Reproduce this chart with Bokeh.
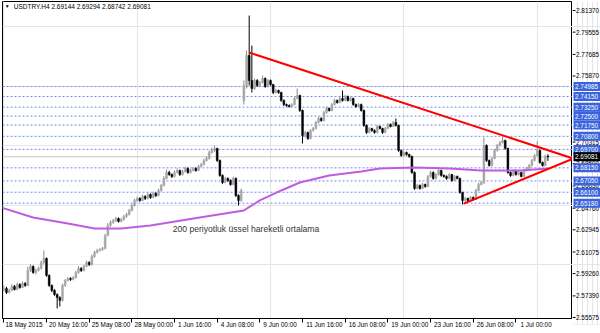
from bokeh.plotting import figure
from bokeh.layouts import row
from bokeh.models import (Range1d, LinearAxis, FixedTicker, Label, Span, ColumnDataSource,
                          CustomJSTickFormatter)
from bokeh.core.properties import value
from bokeh.embed import file_html
from bokeh.resources import INLINE

# ---------------- data ----------------
x_tick_bars = [0, 16, 32, 48, 64, 80, 96, 112, 128, 144, 160, 176, 192]
x_tick_labels = ["18 May 2015", "20 May 16:00", "25 May 08:00", "28 May 00:00", "1 Jun 16:00",
                 "4 Jun 08:00", "9 Jun 00:00", "11 Jun 16:00", "16 Jun 08:00", "19 Jun 00:00",
                 "23 Jun 16:00", "26 Jun 08:00", "1 Jul 00:00"]

y_ticks = [2.81370, 2.79555, 2.77685, 2.75870, 2.70315, 2.68500, 2.66630, 2.64760,
           2.62945, 2.61075, 2.59260, 2.57390, 2.55575]

opens = [2.5790, 2.5802, 2.5768, 2.5785, 2.5819, 2.5793, 2.5835, 2.5810, 2.5844, 2.5827,
         2.5953, 2.5987, 2.5936, 2.5953, 2.5970, 2.6020, 2.6054, 2.5911, 2.5827, 2.5785,
         2.5751, 2.5726, 2.5701, 2.5827, 2.5869, 2.5886, 2.5877, 2.5894, 2.5936, 2.5970,
         2.5953, 2.5987, 2.6020, 2.6003, 2.6071, 2.6104, 2.6121, 2.6129, 2.6138, 2.6247,
         2.6331, 2.6356, 2.6373, 2.6390, 2.6365, 2.6381, 2.6407, 2.6423, 2.6457, 2.6499,
         2.6541, 2.6558, 2.6541, 2.6575, 2.6558, 2.6591, 2.6566, 2.6600, 2.6583, 2.6625,
         2.6667, 2.6726, 2.6776, 2.6759, 2.6743, 2.6776, 2.6793, 2.6759, 2.6785, 2.6810,
         2.6776, 2.6793, 2.6810, 2.6793, 2.6827, 2.6843, 2.6877, 2.6894, 2.6944, 2.6961,
         2.6978, 2.6877, 2.6751, 2.6692, 2.6726, 2.6709, 2.6675, 2.6726, 2.6583, 2.6541,
         2.7381, 2.7507, 2.7759, 2.7549, 2.7482, 2.7549, 2.7507, 2.7532, 2.7566, 2.7499,
         2.7549, 2.7515, 2.7448, 2.7465, 2.7448, 2.7381, 2.7347, 2.7339, 2.7331, 2.7347,
         2.7398, 2.7423, 2.7297, 2.7087, 2.7112, 2.7062, 2.7129, 2.7146, 2.7196, 2.7230,
         2.7213, 2.7280, 2.7314, 2.7297, 2.7347, 2.7381, 2.7364, 2.7398, 2.7381, 2.7415,
         2.7381, 2.7398, 2.7347, 2.7331, 2.7347, 2.7297, 2.7171, 2.7112, 2.7146, 2.7129,
         2.7112, 2.7163, 2.7146, 2.7112, 2.7146, 2.7179, 2.7163, 2.7196, 2.7171, 2.6961,
         2.6919, 2.6944, 2.6927, 2.6911, 2.6776, 2.6642, 2.6667, 2.6642, 2.6675, 2.6659,
         2.6743, 2.6776, 2.6726, 2.6759, 2.6793, 2.6751, 2.6743, 2.6726, 2.6759, 2.6709,
         2.6743, 2.6726, 2.6608, 2.6541, 2.6558, 2.6541, 2.6566, 2.6549, 2.6625, 2.6675,
         2.6692, 2.7003, 2.6877, 2.6835, 2.6894, 2.6961, 2.7003, 2.7028, 2.7045, 2.6978,
         2.6776, 2.6751, 2.6793, 2.6759, 2.6776, 2.6743, 2.6793, 2.6810, 2.6835, 2.6877,
         2.6919, 2.6961, 2.6860, 2.6835, 2.69144]

highs = [2.5825, 2.5815, 2.5800, 2.5838, 2.5830, 2.5850, 2.5845, 2.5860, 2.5855, 2.5985,
         2.6005, 2.5995, 2.5968, 2.5985, 2.6035, 2.6121, 2.6062, 2.5920, 2.5835, 2.5795,
         2.5760, 2.5735, 2.5840, 2.5880, 2.5898, 2.5895, 2.5905, 2.5950, 2.5990, 2.5980,
         2.6000, 2.6035, 2.6030, 2.6085, 2.6118, 2.6135, 2.6140, 2.6150, 2.6260, 2.6350,
         2.6372, 2.6385, 2.6402, 2.6398, 2.6395, 2.6420, 2.6438, 2.6470, 2.6512, 2.6555,
         2.6572, 2.6568, 2.6590, 2.6585, 2.6605, 2.6600, 2.6615, 2.6610, 2.6640, 2.6680,
         2.6745, 2.6800, 2.6790, 2.6768, 2.6792, 2.6810, 2.6800, 2.6798, 2.6825, 2.6818,
         2.6808, 2.6822, 2.6818, 2.6840, 2.6858, 2.6892, 2.6910, 2.6960, 2.6985, 2.7003,
         2.6985, 2.6885, 2.6760, 2.6740, 2.6735, 2.6718, 2.6740, 2.6735, 2.6592, 2.6640,
         2.7549, 2.7801, 2.8095, 2.7843, 2.7565, 2.7560, 2.7545, 2.7590, 2.7575, 2.7560,
         2.7558, 2.7522, 2.7478, 2.7472, 2.7455, 2.7390, 2.7355, 2.7348, 2.7358, 2.7412,
         2.7482, 2.7430, 2.7305, 2.7125, 2.7120, 2.7140, 2.7158, 2.7210, 2.7245, 2.7240,
         2.7295, 2.7328, 2.7322, 2.7360, 2.7395, 2.7390, 2.7412, 2.7465, 2.7428, 2.7422,
         2.7410, 2.7405, 2.7355, 2.7360, 2.7355, 2.7305, 2.7180, 2.7158, 2.7152, 2.7138,
         2.7175, 2.7170, 2.7152, 2.7158, 2.7192, 2.7188, 2.7210, 2.7230, 2.7178, 2.6970,
         2.6955, 2.6952, 2.6935, 2.6918, 2.6785, 2.6680, 2.6675, 2.6688, 2.6682, 2.6755,
         2.6790, 2.6785, 2.6770, 2.6805, 2.6800, 2.6760, 2.6752, 2.6770, 2.6765, 2.6755,
         2.6750, 2.6732, 2.6615, 2.6570, 2.6565, 2.6578, 2.6575, 2.6638, 2.6690, 2.6705,
         2.7070, 2.7012, 2.6885, 2.6905, 2.6975, 2.7015, 2.7040, 2.7079, 2.7052, 2.6985,
         2.6785, 2.6805, 2.6800, 2.6788, 2.6782, 2.6805, 2.6822, 2.6848, 2.6890, 2.6930,
         2.7037, 2.6968, 2.6868, 2.6925, 2.69294]

lows = [2.5775, 2.5755, 2.5760, 2.5778, 2.5785, 2.5788, 2.5800, 2.5805, 2.5815, 2.5820,
        2.5940, 2.5925, 2.5920, 2.5945, 2.5960, 2.6005, 2.5900, 2.5815, 2.5770, 2.5740,
        2.5634, 2.5650, 2.5690, 2.5815, 2.5860, 2.5865, 2.5870, 2.5885, 2.5925, 2.5940,
        2.5945, 2.5980, 2.5990, 2.5995, 2.6060, 2.6095, 2.6110, 2.6118, 2.6130, 2.6240,
        2.6320, 2.6345, 2.6360, 2.6355, 2.6358, 2.6370, 2.6395, 2.6415, 2.6448, 2.6490,
        2.6530, 2.6530, 2.6535, 2.6545, 2.6550, 2.6555, 2.6560, 2.6570, 2.6575, 2.6615,
        2.6660, 2.6718, 2.6748, 2.6730, 2.6735, 2.6768, 2.6748, 2.6750, 2.6775, 2.6765,
        2.6768, 2.6785, 2.6782, 2.6788, 2.6818, 2.6835, 2.6868, 2.6885, 2.6935, 2.6950,
        2.6865, 2.6740, 2.6680, 2.6685, 2.6698, 2.6665, 2.6668, 2.6570, 2.6499, 2.6530,
        2.7347, 2.7482, 2.7507, 2.7448, 2.7470, 2.7495, 2.7498, 2.7525, 2.7488, 2.7490,
        2.7505, 2.7435, 2.7440, 2.7438, 2.7370, 2.7335, 2.7328, 2.7322, 2.7325, 2.7340,
        2.7390, 2.7285, 2.7020, 2.7070, 2.7050, 2.7055, 2.7120, 2.7138, 2.7188, 2.7202,
        2.7205, 2.7270, 2.7288, 2.7290, 2.7340, 2.7355, 2.7358, 2.7372, 2.7375, 2.7372,
        2.7372, 2.7338, 2.7320, 2.7325, 2.7288, 2.7160, 2.7100, 2.7105, 2.7118, 2.7102,
        2.7105, 2.7138, 2.7100, 2.7105, 2.7140, 2.7155, 2.7158, 2.7162, 2.6950, 2.6908,
        2.6912, 2.6918, 2.6900, 2.6765, 2.6630, 2.6635, 2.6632, 2.6635, 2.6648, 2.6652,
        2.6735, 2.6715, 2.6718, 2.6750, 2.6740, 2.6732, 2.6715, 2.6720, 2.6698, 2.6702,
        2.6718, 2.6598, 2.6507, 2.6525, 2.6530, 2.6535, 2.6540, 2.6545, 2.6618, 2.6668,
        2.6680, 2.6865, 2.6825, 2.6828, 2.6888, 2.6952, 2.6995, 2.7020, 2.6968, 2.6765,
        2.6740, 2.6745, 2.6750, 2.6752, 2.6735, 2.6738, 2.6785, 2.6805, 2.6828, 2.6870,
        2.6912, 2.6850, 2.6825, 2.6828, 2.68742]

closes = [2.5802, 2.5768, 2.5785, 2.5819, 2.5793, 2.5835, 2.5810, 2.5844, 2.5827, 2.5953,
          2.5987, 2.5936, 2.5953, 2.5970, 2.6020, 2.6054, 2.5911, 2.5827, 2.5785, 2.5751,
          2.5726, 2.5701, 2.5827, 2.5869, 2.5886, 2.5877, 2.5894, 2.5936, 2.5970, 2.5953,
          2.5987, 2.6020, 2.6003, 2.6071, 2.6104, 2.6121, 2.6129, 2.6138, 2.6247, 2.6331,
          2.6356, 2.6373, 2.6390, 2.6365, 2.6381, 2.6407, 2.6423, 2.6457, 2.6499, 2.6541,
          2.6558, 2.6541, 2.6575, 2.6558, 2.6591, 2.6566, 2.6600, 2.6583, 2.6625, 2.6667,
          2.6726, 2.6776, 2.6759, 2.6743, 2.6776, 2.6793, 2.6759, 2.6785, 2.6810, 2.6776,
          2.6793, 2.6810, 2.6793, 2.6827, 2.6843, 2.6877, 2.6894, 2.6944, 2.6961, 2.6978,
          2.6877, 2.6751, 2.6692, 2.6726, 2.6709, 2.6675, 2.6726, 2.6583, 2.6541, 2.6625,
          2.7507, 2.7759, 2.7549, 2.7482, 2.7549, 2.7507, 2.7532, 2.7566, 2.7499, 2.7549,
          2.7515, 2.7448, 2.7465, 2.7448, 2.7381, 2.7347, 2.7339, 2.7331, 2.7347, 2.7398,
          2.7423, 2.7297, 2.7087, 2.7112, 2.7062, 2.7129, 2.7146, 2.7196, 2.7230, 2.7213,
          2.7280, 2.7314, 2.7297, 2.7347, 2.7381, 2.7364, 2.7398, 2.7381, 2.7415, 2.7381,
          2.7398, 2.7347, 2.7331, 2.7347, 2.7297, 2.7171, 2.7112, 2.7146, 2.7129, 2.7112,
          2.7163, 2.7146, 2.7112, 2.7146, 2.7179, 2.7163, 2.7196, 2.7171, 2.6961, 2.6919,
          2.6944, 2.6927, 2.6911, 2.6776, 2.6642, 2.6667, 2.6642, 2.6675, 2.6659, 2.6743,
          2.6776, 2.6726, 2.6759, 2.6793, 2.6751, 2.6743, 2.6726, 2.6759, 2.6709, 2.6743,
          2.6726, 2.6608, 2.6541, 2.6558, 2.6541, 2.6566, 2.6549, 2.6625, 2.6675, 2.6692,
          2.7003, 2.6877, 2.6835, 2.6894, 2.6961, 2.7003, 2.7028, 2.7045, 2.6978, 2.6776,
          2.6751, 2.6793, 2.6759, 2.6776, 2.6743, 2.6793, 2.6810, 2.6835, 2.6877, 2.6919,
          2.6961, 2.6860, 2.6835, 2.69144, 2.69081]

ma_bars = [-1, 11, 24, 34, 44, 55, 74, 90, 96, 104, 111, 122, 134, 141, 154, 167, 179, 194, 204]
ma_values = [2.6482, 2.6398, 2.6348, 2.6306, 2.6306, 2.6331, 2.6400, 2.6457, 2.6541, 2.6625,
             2.6692, 2.6751, 2.6785, 2.6810, 2.6818, 2.6810, 2.6793, 2.6793, 2.6810]

level_prices = [2.74985, 2.74150, 2.73250, 2.72500, 2.71750, 2.70800, 2.69700,
                2.68150, 2.67050, 2.66100, 2.65180]
last_price = 2.69081

upper_line_bars = [92, 213.6]
upper_line_prices = [2.7784, 2.6893]
lower_line_bars = [172.5, 213.6]
lower_line_prices = [2.6515, 2.6893]

title_text = "USDTRY.H4  2.69144 2.69294 2.68742 2.69081"
ma_note = "200 periyotluk üssel hareketli ortalama"

# ---------------- layout constants ----------------
FONT = "Liberation Sans"
FRAME_W, FRAME_H = 570, 317
X_START = -0.5
PX_PER_BAR = 2.667
X_END = X_START + FRAME_W / PX_PER_BAR
Y_START, Y_END = 2.5549, 2.8213
Y_PER_PX = (Y_END - Y_START) / FRAME_H
yr = Range1d(Y_START, Y_END)

# ---------------- main chart ----------------
p = figure(frame_width=FRAME_W, frame_height=FRAME_H, x_range=Range1d(X_START, X_END), y_range=yr,
           x_axis_location=None, y_axis_location=None, toolbar_location=None,
           output_backend="svg", min_border_left=2, min_border_right=0,
           min_border_top=1, min_border_bottom=0)
p.background_fill_color = "white"
p.border_fill_color = "white"
p.outline_line_color = "black"
p.outline_line_width = 1

# bottom tick marks axis
xax_ticks = LinearAxis(ticker=FixedTicker(ticks=x_tick_bars),
                       formatter=CustomJSTickFormatter(code="return ''"))
xax_ticks.major_tick_out = 4
xax_ticks.major_tick_in = 0
xax_ticks.minor_tick_out = 0
xax_ticks.minor_tick_in = 0
xax_ticks.major_label_text_font_size = "0px"
xax_ticks.major_label_standoff = 0
xax_ticks.axis_line_color = "black"
p.add_layout(xax_ticks, "below")

# bottom labels axis (labels sit to the right of each tick mark)
label_pos = [t + (len(s) * 3.4 / 2 + 1.5) / PX_PER_BAR for t, s in zip(x_tick_bars, x_tick_labels)]
xax_lab = LinearAxis(ticker=FixedTicker(ticks=label_pos),
                     formatter=CustomJSTickFormatter(args=dict(labels=x_tick_labels),
                                                     code="return labels[index]"))
xax_lab.major_tick_out = 0
xax_lab.major_tick_in = 0
xax_lab.minor_tick_out = 0
xax_lab.minor_tick_in = 0
xax_lab.axis_line_color = None
xax_lab.major_label_standoff = -2
xax_lab.major_label_text_font = FONT
xax_lab.major_label_text_font_size = "6.4px"
xax_lab.major_label_text_color = "black"
p.add_layout(xax_lab, "below")

# horizontal level lines
for lv in level_prices:
    p.add_layout(Span(location=lv, dimension="width", line_color="#6a8cf0", line_width=1,
                      line_dash="2 2", level="underlay"))
p.add_layout(Span(location=last_price, dimension="width", line_color="#c8c8c8", line_width=1,
                  level="underlay"))

# candles
n = len(closes)
bars = list(range(n))
bull = [c >= o for o, c in zip(opens, closes)]
src = ColumnDataSource(dict(
    x=bars, h=highs, l=lows,
    top=[max(o, c) for o, c in zip(opens, closes)],
    bot=[min(o, c) for o, c in zip(opens, closes)],
    body=["#a6a6a6" if b else "black" for b in bull],
    wick=["#8a8a8a" if b else "black" for b in bull],
))
p.segment(x0="x", y0="h", x1="x", y1="l", line_color="wick", line_width=1, source=src)
p.vbar(x="x", width=0.7, top="top", bottom="bot", fill_color="body", line_color="body",
       line_width=0.5, source=src)

# moving average
p.line(ma_bars, ma_values, line_color="#c05ce0", line_width=2)

# triangle lines
p.line(upper_line_bars, upper_line_prices, line_color="#ff0000", line_width=2)
p.line(lower_line_bars, lower_line_prices, line_color="#ff0000", line_width=2)

# title label
p.add_layout(Label(x=0.3, y=2.8172, text="▼", text_font=FONT, text_font_size="5px",
                   text_color="black", text_baseline="middle", text_align="left"))
p.add_layout(Label(x=3.7, y=2.8172, text=title_text, text_font=FONT, text_font_size="6.5px",
                   text_color="black", text_baseline="middle", text_align="left"))

# MA note
p.add_layout(Label(x=63.3, y=2.6297, text=ma_note, text_font=FONT, text_font_size="8.6px",
                   text_color="#333333", text_baseline="middle", text_align="left"))

# ---------------- right price scale panel ----------------
EXTRA = 6  # extra pixels below so the lowest scale label is not clipped
q = figure(frame_width=28, frame_height=FRAME_H + EXTRA,
           x_range=Range1d(0, 28), y_range=Range1d(Y_START - EXTRA * Y_PER_PX, Y_END),
           x_axis_location=None, y_axis_location=None, toolbar_location=None,
           output_backend="svg", min_border_left=0, min_border_right=0,
           min_border_top=1, min_border_bottom=15 - EXTRA)
q.outline_line_color = None
q.background_fill_color = "white"
q.border_fill_color = "white"

SCALE_FONT = "6.4px"
tick_src = ColumnDataSource(dict(y=y_ticks, txt=[f"{t:.5f}" for t in y_ticks]))
q.segment(x0=0, y0="y", x1=3, y1="y", line_color="black", line_width=1, source=tick_src)
q.text(x=3.5, y="y", text="txt", text_font=value(FONT), text_font_size=SCALE_FONT,
       text_color="black", text_baseline="middle", text_align="left", source=tick_src)

lvl_src = ColumnDataSource(dict(y=level_prices, txt=[f"{v:.5f}" for v in level_prices]))
q.rect(x=14.5, y="y", width=27, height=9, height_units="screen", fill_color="#3a64dc",
       line_color=None, source=lvl_src)
q.text(x=2.5, y="y", text="txt", text_font=value(FONT), text_font_size=SCALE_FONT,
       text_color="white", text_baseline="middle", text_align="left", source=lvl_src)

last_src = ColumnDataSource(dict(y=[last_price], txt=[f"{last_price:.5f}"]))
q.rect(x=14.5, y="y", width=27, height=9, height_units="screen", fill_color="black",
       line_color=None, source=last_src)
q.text(x=2.5, y="y", text="txt", text_font=value(FONT), text_font_size=SCALE_FONT,
       text_color="white", text_baseline="middle", text_align="left", source=last_src)

layout = row(p, q, spacing=0)
open("out.html", "w").write(file_html(layout, INLINE))
